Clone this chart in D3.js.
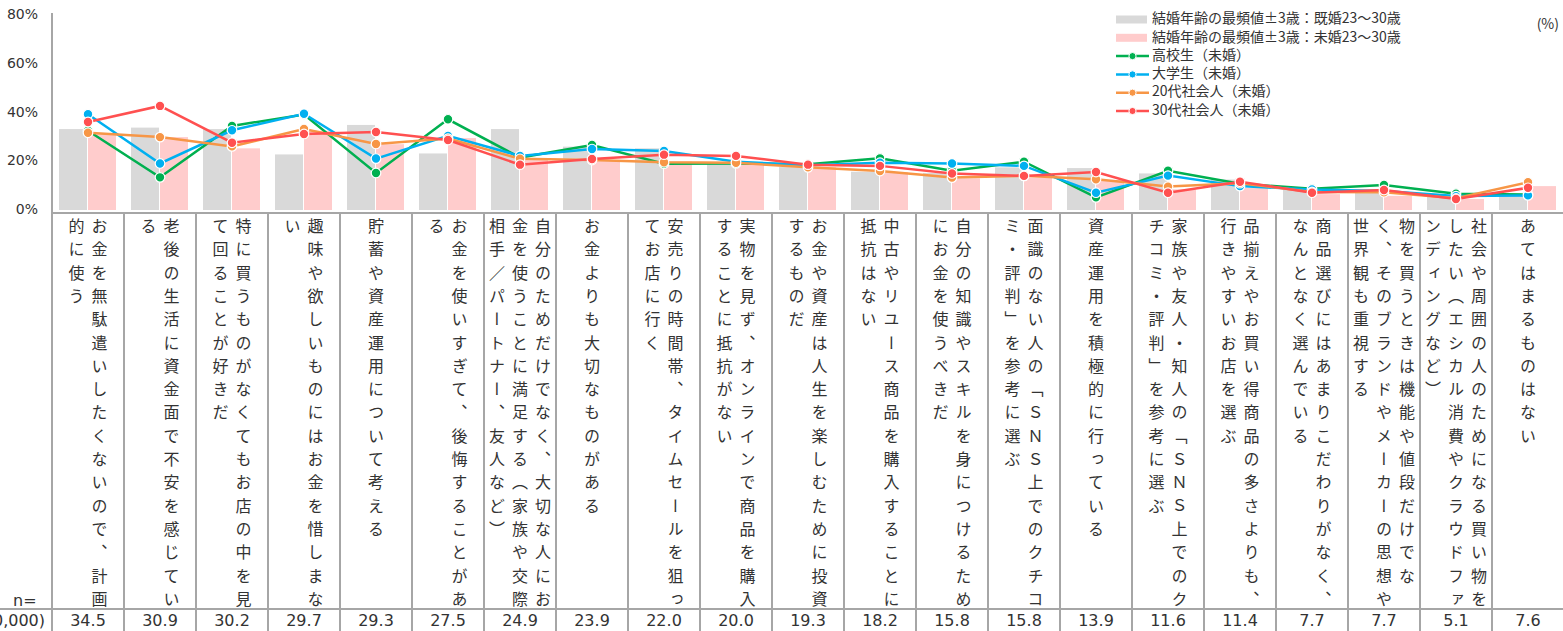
<!DOCTYPE html>
<html><head><meta charset="utf-8">
<script src="https://cdn.jsdelivr.net/npm/d3@7"></script>
<style>
html,body{margin:0;padding:0;background:#fff;}
svg{display:block;}
</style></head>
<body><svg id="chart" width="1563" height="631"></svg>
<script>
const categories = [
 "お金を無駄遣いしたくないので、計画的に使う",
 "老後の生活に資金面で不安を感じている",
 "特に買うものがなくてもお店の中を見て回ることが好きだ",
 "趣味や欲しいものにはお金を惜しまない",
 "貯蓄や資産運用について考える",
 "お金を使いすぎて、後悔することがある",
 "自分のためだけでなく、大切な人にお金を使うことに満足する（家族や交際相手／パートナー、友人など）",
 "お金よりも大切なものがある",
 "安売りの時間帯、タイムセールを狙ってお店に行く",
 "実物を見ず、オンラインで商品を購入することに抵抗がない",
 "お金や資産は人生を楽しむために投資するものだ",
 "中古やリユース商品を購入することに抵抗はない",
 "自分の知識やスキルを身につけるためにお金を使うべきだ",
 "面識のない人の「ＳＮＳ上でのクチコミ・評判」を参考に選ぶ",
 "資産運用を積極的に行っている",
 "家族や友人・知人の「ＳＮＳ上でのクチコミ・評判」を参考に選ぶ",
 "品揃えやお買い得商品の多さよりも、行きやすいお店を選ぶ",
 "商品選びにはあまりこだわりがなく、なんとなく選んでいる",
 "物を買うときは機能や値段だけでなく、そのブランドやメーカーの思想や世界観も重視する",
 "社会や周囲の人のためになる買い物をしたい（エシカル消費やクラウドファンディングなど）",
 "あてはまるものはない"
];
const nValues = [34.5,30.9,30.2,29.7,29.3,27.5,24.9,23.9,22.0,20.0,19.3,18.2,15.8,15.8,13.9,11.6,11.4,7.7,7.7,5.1,7.6];
const nLabel = "n=";
const nTotal = "(10,000)";

const barNames = ["結婚年齢の最頻値±3歳：既婚23～30歳","結婚年齢の最頻値±3歳：未婚23～30歳"];
const marriedValues   = [33.2,33.8,33.2,22.8,34.9,23.2,33.2,26.0,25.3,19.1,17.6,15.7,15.2,17.5,17.2,15.0,12.5,8.2,7.0,5.5,6.5];
const unmarriedValues = [31.5,29.9,25.3,32.5,27.0,29.5,20.5,20.5,19.9,19.0,17.5,15.5,13.0,13.3,12.3,8.5,9.0,6.5,5.8,4.5,9.8];

const lineNames = ["高校生（未婚）","大学生（未婚）","20代社会人（未婚）","30代社会人（未婚）"];
const highSchool = [32.5,13.4,34.5,39.2,15.2,37.2,21.5,26.7,19.0,19.1,18.8,21.2,16.1,19.8,5.2,16.1,10.8,8.7,10.3,6.7,6.4];
const university = [39.3,19.1,32.7,39.5,21.1,30.4,22.2,25.0,24.2,19.8,18.4,19.4,19.1,18.1,7.1,14.1,9.8,8.4,7.8,5.7,6.0];
const workers20s = [31.7,29.9,26.1,33.2,27.1,29.3,21.0,20.5,19.6,19.4,17.5,16.0,13.3,14.0,12.6,9.6,11.0,7.4,7.3,4.8,11.4];
const workers30s = [36.1,42.7,27.6,31.2,32.0,28.7,18.6,20.9,22.7,22.2,18.6,18.1,15.0,14.0,15.6,7.1,11.6,7.1,8.2,4.5,9.1];

const yTicks = [0,20,40,60,80];
const unitLabel = "(%)";

const barColors = ["#d9d9d9","#ffcccc"];
const lineColors = ["#00b050","#00b0f0","#f79646","#ff5050"];
const gridColor = "#a6a6a6";
const textColor = "#333333";
const jpFont = "'Noto Sans CJK JP','Noto Sans',sans-serif";
const numFont = "'DejaVu Sans','Noto Sans CJK JP',sans-serif";

const svg = d3.select("#chart");
const W = 1563, H = 631;
const left = 52, right = 1564;

const x = d3.scaleBand().domain(categories).range([left, right]).padding(0);
const bw = x.bandwidth();
const xSub = d3.scaleBand().domain([0,1]).range([7, bw - 7]).padding(0);
const y = d3.scaleLinear().domain([0,80]).range([210, 15]);
const cx = c => x(c) + bw/2;

// y axis labels
svg.append("g").selectAll("text").data(yTicks).join("text")
  .attr("x", 38).attr("y", d => y(d))
  .attr("text-anchor","end").attr("dominant-baseline","middle")
  .attr("font-family", numFont).attr("font-size", 14).attr("fill", textColor)
  .text(d => d + "%");

// bars
const barSeries = [marriedValues, unmarriedValues];
barSeries.forEach((vals, si) => {
  svg.append("g").selectAll("rect").data(categories).join("rect")
    .attr("x", (c) => x(c) + xSub(si))
    .attr("width", xSub.bandwidth() - 1)
    .attr("y", (c,i) => y(vals[i]))
    .attr("height", (c,i) => y(0) - y(vals[i]))
    .attr("fill", barColors[si]);
});

// lines
const lineSeries = [highSchool, university, workers20s, workers30s];
const lineGen = d3.line().x(d => cx(d.c)).y(d => y(d.v));
lineSeries.forEach((vals, si) => {
  const pts = categories.map((c,i) => ({c, v: vals[i]}));
  const g = svg.append("g");
  g.append("path").datum(pts).attr("d", lineGen)
    .attr("fill","none").attr("stroke", lineColors[si]).attr("stroke-width", 2.5);
  g.selectAll("circle").data(pts).join("circle")
    .attr("cx", d => cx(d.c)).attr("cy", d => y(d.v)).attr("r", 4.8)
    .attr("fill", lineColors[si]).attr("stroke","#fff").attr("stroke-width",1.2);
});

// table grid
const grid = svg.append("g").attr("stroke", gridColor).attr("stroke-width", 2);
grid.append("line").attr("x1", left).attr("x2", left).attr("y1", 13).attr("y2", H);
grid.append("line").attr("x1", left).attr("x2", right).attr("y1", 213).attr("y2", 213);
grid.append("line").attr("x1", 0).attr("x2", right).attr("y1", 609).attr("y2", 609);
grid.selectAll("line.div").data(categories).join("line").attr("class","div")
  .attr("x1", c => x(c) + bw).attr("x2", c => x(c) + bw)
  .attr("y1", 213).attr("y2", H);

// vertical category labels
const maxChars = 17;
const noStart = "、。）」";
function wrapCols(s) {
  const chars = Array.from(s);
  const cols = [];
  let i = 0;
  while (i < chars.length) {
    let end = Math.min(i + maxChars, chars.length);
    if (end < chars.length && noStart.includes(chars[end])) end -= 1;
    cols.push(chars.slice(i, end).join(""));
    i = end;
  }
  return cols;
}
const colGap = 23;
const labG = svg.append("g");
categories.forEach(c => {
  const cols = wrapCols(c);
  const n = cols.length;
  cols.forEach((t, k) => {
    labG.append("text")
      .attr("x", cx(c) + ((n - 1) / 2 - k) * colGap)
      .attr("y", 218)
      .attr("writing-mode", "vertical-rl")
      .style("writing-mode", "vertical-rl")
      .attr("font-family", jpFont).attr("font-size", 16)
      .attr("letter-spacing", 7.3)
      .attr("fill", textColor)
      .text(t);
  });
});

// n row
svg.append("g").selectAll("text").data(nValues).join("text")
  .attr("x", (d,i) => cx(categories[i])).attr("y", 621)
  .attr("text-anchor","middle").attr("dominant-baseline","middle")
  .attr("font-family", numFont).attr("font-size", 16).attr("fill", textColor)
  .text(d => d.toFixed(1));
svg.append("text").attr("x", 13).attr("y", 601).attr("dominant-baseline","middle")
  .attr("font-family", numFont).attr("font-size", 16).attr("fill", textColor).text(nLabel);
svg.append("text").attr("x", 45).attr("y", 621).attr("text-anchor","end").attr("dominant-baseline","middle")
  .attr("font-family", numFont).attr("font-size", 16).attr("fill", textColor).text(nTotal);

// legend
const legX = 1116, legY0 = 19.5, legStep = 18.3;
const leg = svg.append("g");
barNames.forEach((nm, i) => {
  leg.append("rect").attr("x", legX).attr("y", legY0 + i*legStep - 4).attr("width", 31).attr("height", 8)
    .attr("fill", barColors[i]);
});
lineNames.forEach((nm, j) => {
  const yy = legY0 + (j+2)*legStep;
  leg.append("line").attr("x1", legX).attr("x2", legX + 33).attr("y1", yy).attr("y2", yy)
    .attr("stroke", lineColors[j]).attr("stroke-width", 2.5);
  leg.append("circle").attr("cx", legX + 16.5).attr("cy", yy).attr("r", 3.6)
    .attr("fill", lineColors[j]).attr("stroke","#fff").attr("stroke-width",1);
});
leg.selectAll("text").data(barNames.concat(lineNames)).join("text")
  .attr("x", legX + 36).attr("y", (d,i) => legY0 + i*legStep)
  .attr("dominant-baseline","middle")
  .attr("font-family", jpFont).attr("font-size", 14).attr("fill", textColor)
  .text(d => d);

svg.append("text").attr("x", 1559).attr("y", 25).attr("text-anchor","end").attr("dominant-baseline","middle")
  .attr("font-family", jpFont).attr("font-size", 14).attr("fill", textColor).text(unitLabel);
</script>
</body></html>
